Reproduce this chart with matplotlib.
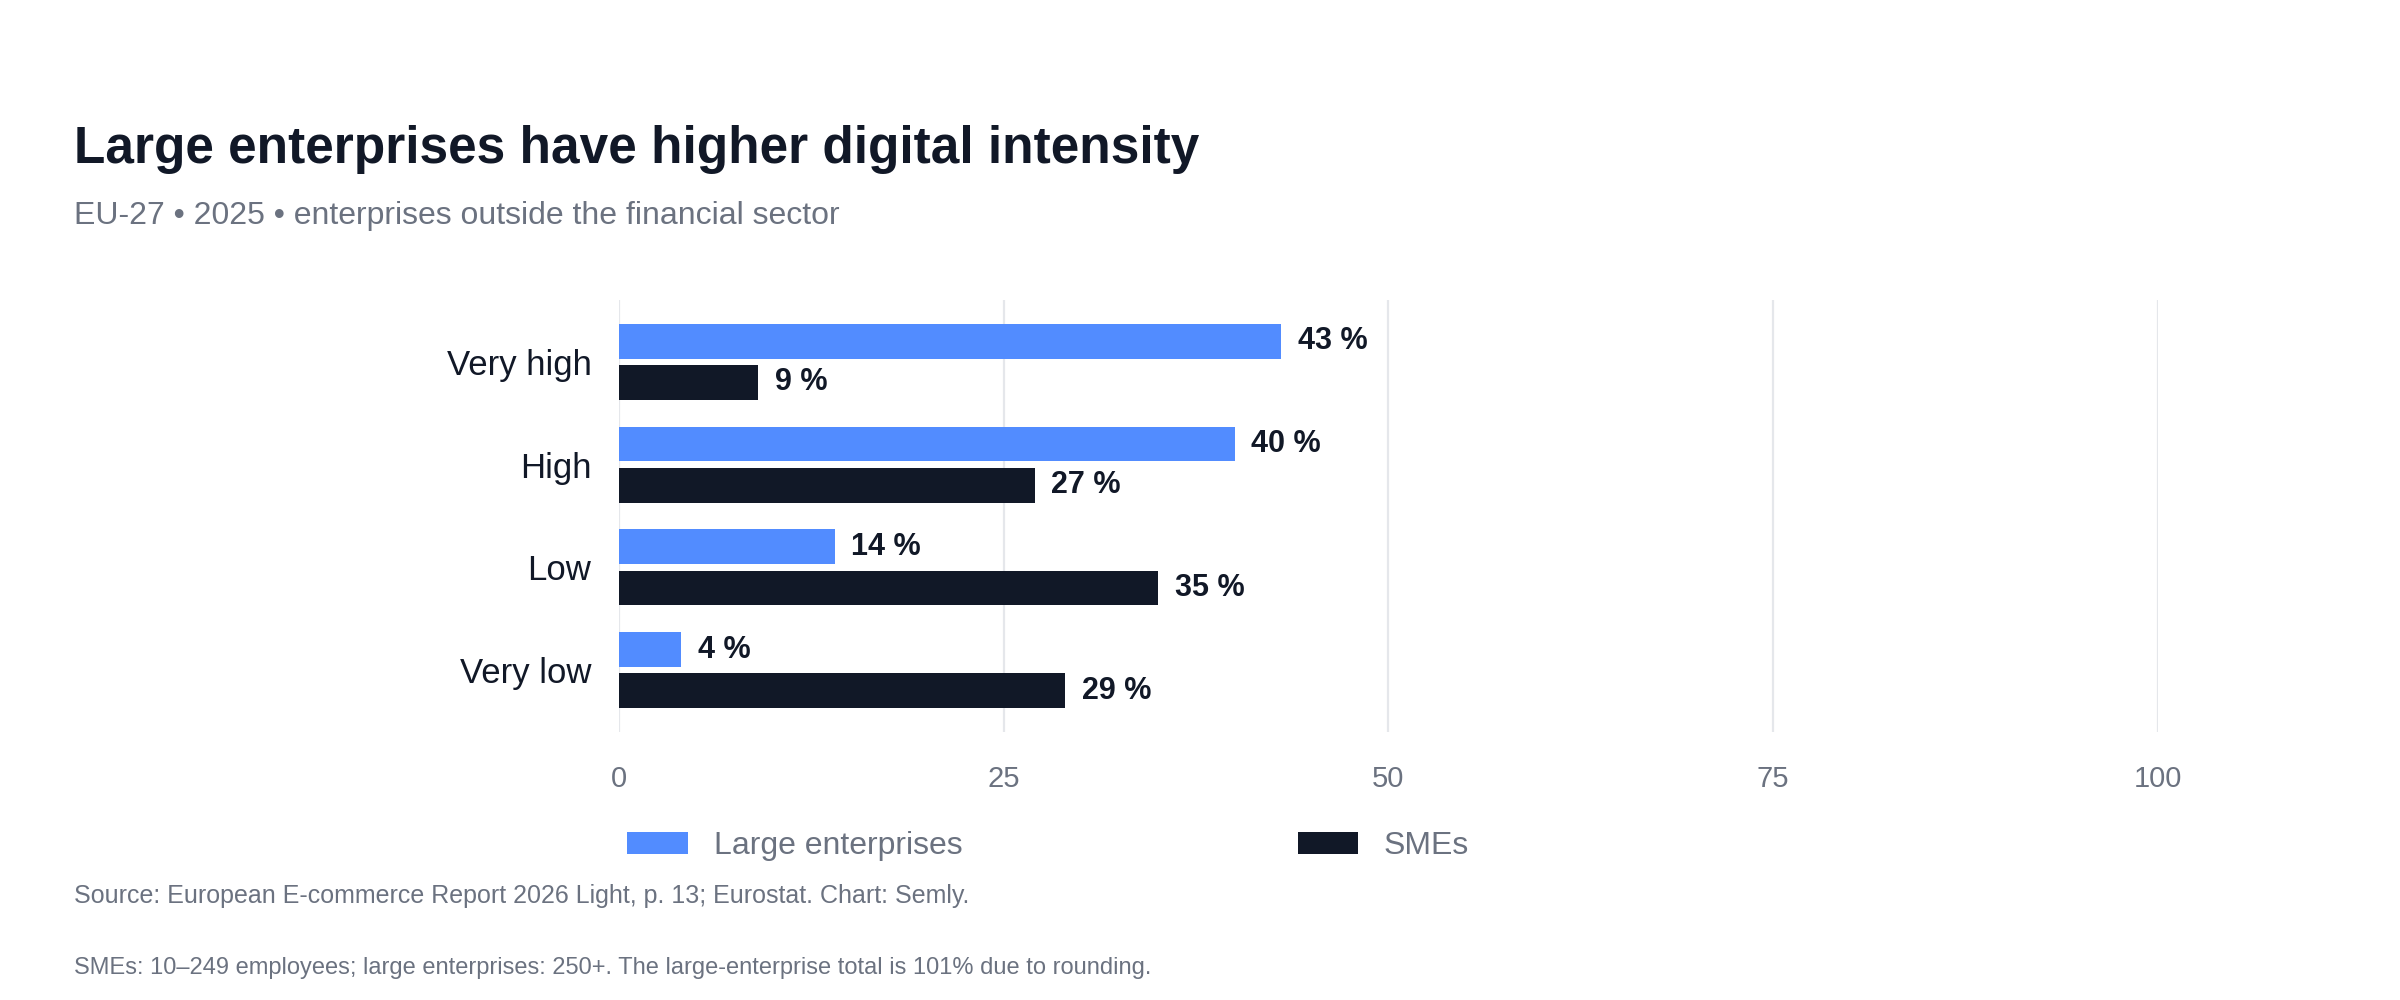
import numpy as np
import matplotlib.pyplot as plt

categories = ["Very high", "High", "Low", "Very low"]
large = [43, 40, 14, 4]
smes = [9, 27, 35, 29]
xticks = [0, 25, 50, 75, 100]

blue = "#528CFF"
dark = "#111827"
grey = "#6B7280"

plt.rcParams['font.family'] = ['Liberation Sans', 'DejaVu Sans']
fig = plt.figure(figsize=(12, 5), dpi=200)
ax = fig.add_axes([0.258, 0.268, 0.641, 0.432])

y = np.arange(len(categories))
h = 0.34
off = 0.2
ax.barh(y - off, large, height=h, color=blue, label="Large enterprises", zorder=3)
ax.barh(y + off, smes, height=h, color=dark, label="SMEs", zorder=3)
for yi, v in zip(y, large):
    ax.text(v + 1.1, yi - off, f"{v} %", va="center", ha="left", fontsize=11, fontweight="bold", color=dark)
for yi, v in zip(y, smes):
    ax.text(v + 1.1, yi + off, f"{v} %", va="center", ha="left", fontsize=11, fontweight="bold", color=dark)

ax.set_xlim(0, 100)
ax.set_ylim(3.6, -0.6)
ax.set_xticks(xticks)
ax.set_yticks(y)
ax.set_yticklabels(categories, fontsize=12.5, color=dark)
ax.tick_params(axis="x", colors=grey, labelsize=10.5, length=0, pad=12)
ax.tick_params(axis="y", length=0, pad=10)
ax.grid(axis="x", color="#E5E7EB", linewidth=0.8, zorder=0)
for s in ax.spines.values():
    s.set_visible(False)

fig.text(0.031, 0.851, "Large enterprises have higher digital intensity", fontsize=18.5, fontweight="bold", color=dark, va="center")
fig.text(0.031, 0.784, "EU-27 • 2025 • enterprises outside the financial sector", fontsize=11.5, color=grey, va="center")

ax.legend(loc="center left", bbox_to_anchor=(-0.003, -0.265), ncol=2, frameon=False, fontsize=11.5,
          labelcolor=grey, handlelength=1.9, handleheight=0.7, columnspacing=10.5, borderaxespad=0)

fig.text(0.031, 0.104, "Source: European E-commerce Report 2026 Light, p. 13; Eurostat. Chart: Semly.", fontsize=9, color=grey, va="center")
fig.text(0.031, 0.032, "SMEs: 10–249 employees; large enterprises: 250+. The large-enterprise total is 101% due to rounding.", fontsize=8.5, color=grey, va="center")

fig.savefig("out.png", dpi=200, facecolor="white")
